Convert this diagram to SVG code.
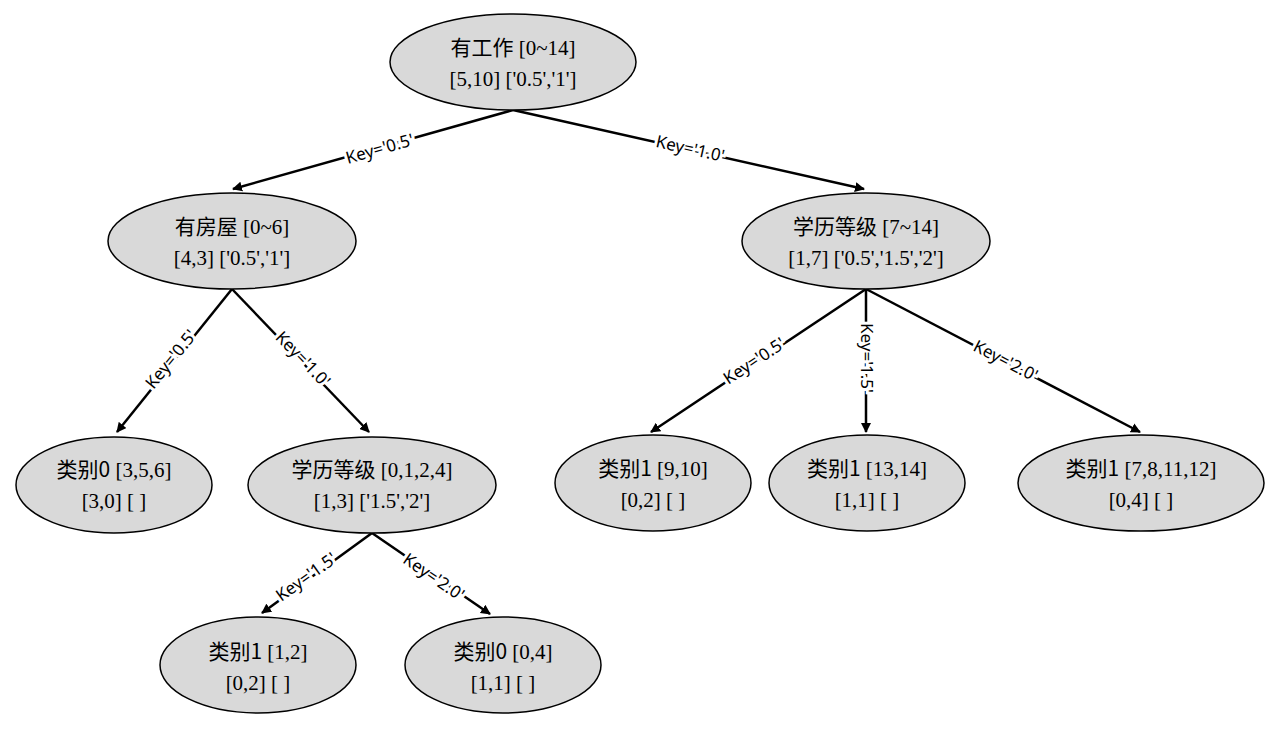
<svg xmlns="http://www.w3.org/2000/svg" width="1280" height="734" viewBox="0 0 1280 734">
<style>
.n ellipse{fill:#d9d9d9;stroke:#000;stroke-width:1.5}
.n text{font-family:"Liberation Serif","Noto Sans CJK SC",serif;font-size:21px;text-anchor:middle}
.c{font-family:"Noto Sans CJK SC","Noto Sans CJK SC",sans-serif}
#edges line{stroke:#000;stroke-width:2.5;marker-end:url(#a)}
.l{font-family:"Noto Sans","Liberation Sans",sans-serif;font-size:17px;text-anchor:middle;dominant-baseline:middle;paint-order:stroke;stroke:#fff;stroke-width:6px;fill:#000}
</style>
<defs><marker id="a" markerWidth="10" markerHeight="10" refX="9" refY="5" orient="auto" markerUnits="userSpaceOnUse"><path d="M0,0 L10,5 L0,10 z"/></marker></defs>
<rect width="1280" height="734" fill="#fff"/>
<g id="edges">
<line x1="513" y1="110" x2="233" y2="189"/>
<line x1="513" y1="110" x2="864" y2="189"/>
<line x1="232" y1="289" x2="117" y2="432"/>
<line x1="232" y1="289" x2="369" y2="432"/>
<line x1="866" y1="289" x2="651" y2="432"/>
<line x1="866" y1="289" x2="866" y2="432"/>
<line x1="866" y1="289" x2="1140" y2="432"/>
<line x1="372" y1="533" x2="262" y2="613"/>
<line x1="372" y1="533" x2="490" y2="614"/>
<text class="l" transform="translate(380,150) rotate(-15.8)">Key='0.5'</text>
<text class="l" transform="translate(690,150) rotate(12.6)">Key='1.0'</text>
<text class="l" transform="translate(172,360) rotate(-50.8)">Key='0.5'</text>
<text class="l" transform="translate(302,360) rotate(45.8)">Key='1.0'</text>
<text class="l" transform="translate(755,362) rotate(-33.3)">Key='0.5'</text>
<text class="l" transform="translate(866,358) rotate(90)">Key='1.5'</text>
<text class="l" transform="translate(1005,362) rotate(27.3)">Key='2.0'</text>
<text class="l" transform="translate(307,578) rotate(-35.7)">Key='1.5'</text>
<text class="l" transform="translate(433,578) rotate(34.5)">Key='2.0'</text>
</g>
<g id="n1" class="n"><ellipse cx="513" cy="62" rx="123" ry="48"/><text x="513" y="55"><tspan class="c">有工作</tspan> [0~14]</text><text x="513" y="86">[5,10] ['0.5','1']</text></g>
<g id="n2" class="n"><ellipse cx="232" cy="241" rx="124" ry="48"/><text x="232" y="234"><tspan class="c">有房屋</tspan> [0~6]</text><text x="232" y="265">[4,3] ['0.5','1']</text></g>
<g id="n3" class="n"><ellipse cx="866" cy="241" rx="124" ry="48"/><text x="866" y="234"><tspan class="c">学历等级</tspan> [7~14]</text><text x="866" y="265">[1,7] ['0.5','1.5','2']</text></g>
<g id="n4" class="n"><ellipse cx="114" cy="485" rx="98" ry="48"/><text x="114" y="477"><tspan class="c">类别0</tspan> [3,5,6]</text><text x="114" y="508">[3,0] [ ]</text></g>
<g id="n5" class="n"><ellipse cx="372" cy="485" rx="124" ry="48"/><text x="372" y="477"><tspan class="c">学历等级</tspan> [0,1,2,4]</text><text x="372" y="508">[1,3] ['1.5','2']</text></g>
<g id="n6" class="n"><ellipse cx="653" cy="483" rx="98" ry="48"/><text x="653" y="476"><tspan class="c">类别1</tspan> [9,10]</text><text x="653" y="507">[0,2] [ ]</text></g>
<g id="n7" class="n"><ellipse cx="867" cy="483" rx="98" ry="48"/><text x="867" y="476"><tspan class="c">类别1</tspan> [13,14]</text><text x="867" y="507">[1,1] [ ]</text></g>
<g id="n8" class="n"><ellipse cx="1141" cy="483" rx="123" ry="48"/><text x="1141" y="476"><tspan class="c">类别1</tspan> [7,8,11,12]</text><text x="1141" y="507">[0,4] [ ]</text></g>
<g id="n9" class="n"><ellipse cx="258" cy="665" rx="98" ry="48"/><text x="258" y="659"><tspan class="c">类别1</tspan> [1,2]</text><text x="258" y="690">[0,2] [ ]</text></g>
<g id="n10" class="n"><ellipse cx="503" cy="665" rx="98" ry="48"/><text x="503" y="659"><tspan class="c">类别0</tspan> [0,4]</text><text x="503" y="690">[1,1] [ ]</text></g>
</svg>
